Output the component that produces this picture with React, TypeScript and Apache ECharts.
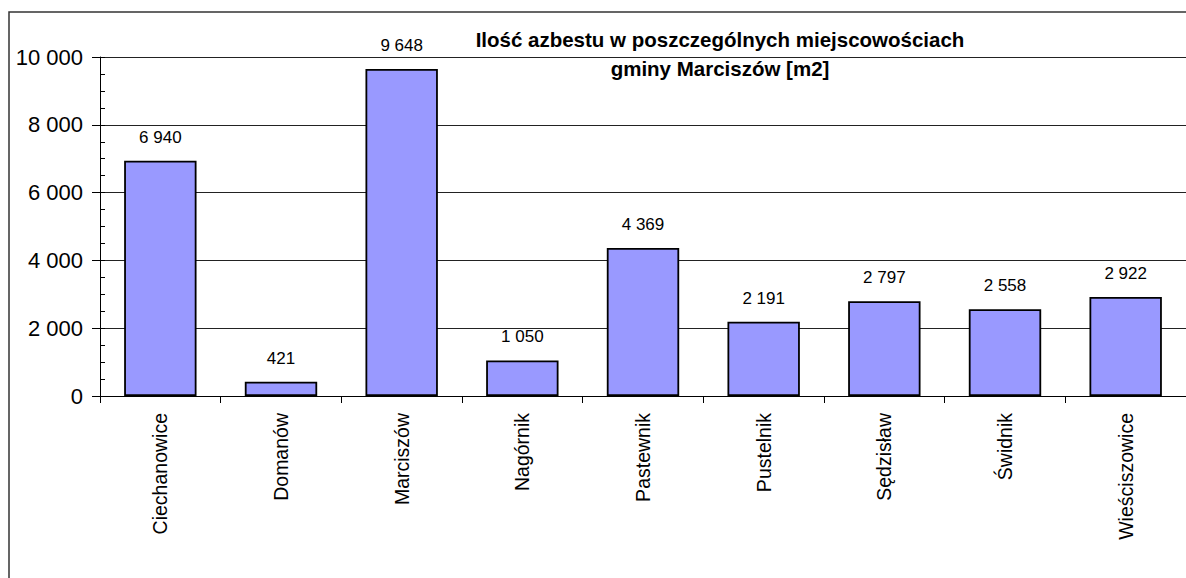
import React, { useEffect, useRef } from "react";
import * as echarts from "echarts";

const categories = [
  "Ciechanowice",
  "Domanów",
  "Marciszów",
  "Nagórnik",
  "Pastewnik",
  "Pustelnik",
  "Sędzisław",
  "Świdnik",
  "Wieściszowice",
];
const values = [6940, 421, 9648, 1050, 4369, 2191, 2797, 2558, 2922];
const titleLines = [
  "Ilość azbestu w poszczególnych miejscowościach",
  "gminy Marciszów [m2]",
];
const yMin = 0;
const yMax = 10000;
const yInterval = 2000;

const FONT = 'Arial, "Liberation Sans", sans-serif';

function fmt(v: number): string {
  if (v >= 1000) {
    const th = Math.floor(v / 1000);
    const rest = String(v % 1000).padStart(3, "0");
    return `${th} ${rest}`;
  }
  return String(v);
}

export default function App() {
  const ref = useRef<HTMLDivElement>(null);
  useEffect(() => {
    document.body.style.margin = "0";
    document.body.style.overflow = "hidden";
    if (!ref.current) return;
    const chart = echarts.init(ref.current, undefined, { renderer: "svg" });
    chart.setOption({
      animation: false,
      backgroundColor: "#ffffff",
      textStyle: { fontFamily: FONT },
      grid: { left: 100, top: 57, width: 1099, height: 339, containLabel: false },
      xAxis: {
        type: "category",
        data: categories,
        axisLine: { show: true, lineStyle: { color: "#000", width: 1 } },
        axisTick: { show: true, alignWithLabel: false, length: 7, lineStyle: { color: "#000" } },
        axisLabel: {
          rotate: 90,
          margin: 17,
          color: "#000",
          fontSize: 19.5,
          fontFamily: FONT,
          interval: 0,
        },
        splitLine: { show: false },
      },
      yAxis: [
        {
          type: "value",
          min: yMin,
          max: yMax,
          interval: yInterval,
          position: "left",
          axisLine: { show: true, lineStyle: { color: "#000", width: 1 } },
          axisTick: { show: true, inside: false, length: 8, lineStyle: { color: "#000" } },
          axisLabel: {
            color: "#000",
            fontSize: 22,
            fontFamily: FONT,
            margin: 17,
            formatter: (v: number) => fmt(v),
          },
          splitLine: { show: true, lineStyle: { color: "#222", width: 1 } },
        },
        {
          type: "value",
          min: yMin,
          max: yMax,
          interval: 500,
          position: "left",
          offset: 0,
          axisLine: { show: false },
          axisTick: { show: true, inside: true, length: 5, lineStyle: { color: "#000" } },
          axisLabel: { show: false },
          splitLine: { show: false },
        },
      ],
      series: [
        {
          type: "bar",
          data: values,
          yAxisIndex: 0,
          barWidth: "60%",
          itemStyle: { color: "#9999FF", borderColor: "#000", borderWidth: 1.8 },
          label: {
            show: true,
            position: "top",
            distance: 15,
            color: "#000",
            fontSize: 17,
            fontFamily: FONT,
            formatter: (p: any) => fmt(p.value),
          },
        },
      ],
      graphic: [
        {
          type: "polyline",
          shape: { points: [[9, 640], [9, 12], [1240, 12]] },
          style: { fill: "none", stroke: "#333", lineWidth: 1.5 },
          silent: true,
        },
        {
          type: "text",
          x: 720,
          y: 39.5,
          style: {
            text: titleLines[0],
            align: "center",
            verticalAlign: "middle",
            font: `bold 20.5px ${FONT}`,
            fill: "#000",
          },
        },
        {
          type: "text",
          x: 720,
          y: 68,
          style: {
            text: titleLines[1],
            align: "center",
            verticalAlign: "middle",
            font: `bold 20.5px ${FONT}`,
            fill: "#000",
          },
        },
      ],
    });
    return () => chart.dispose();
  }, []);
  return <div ref={ref} style={{ width: 1186, height: 578 }} />;
}
